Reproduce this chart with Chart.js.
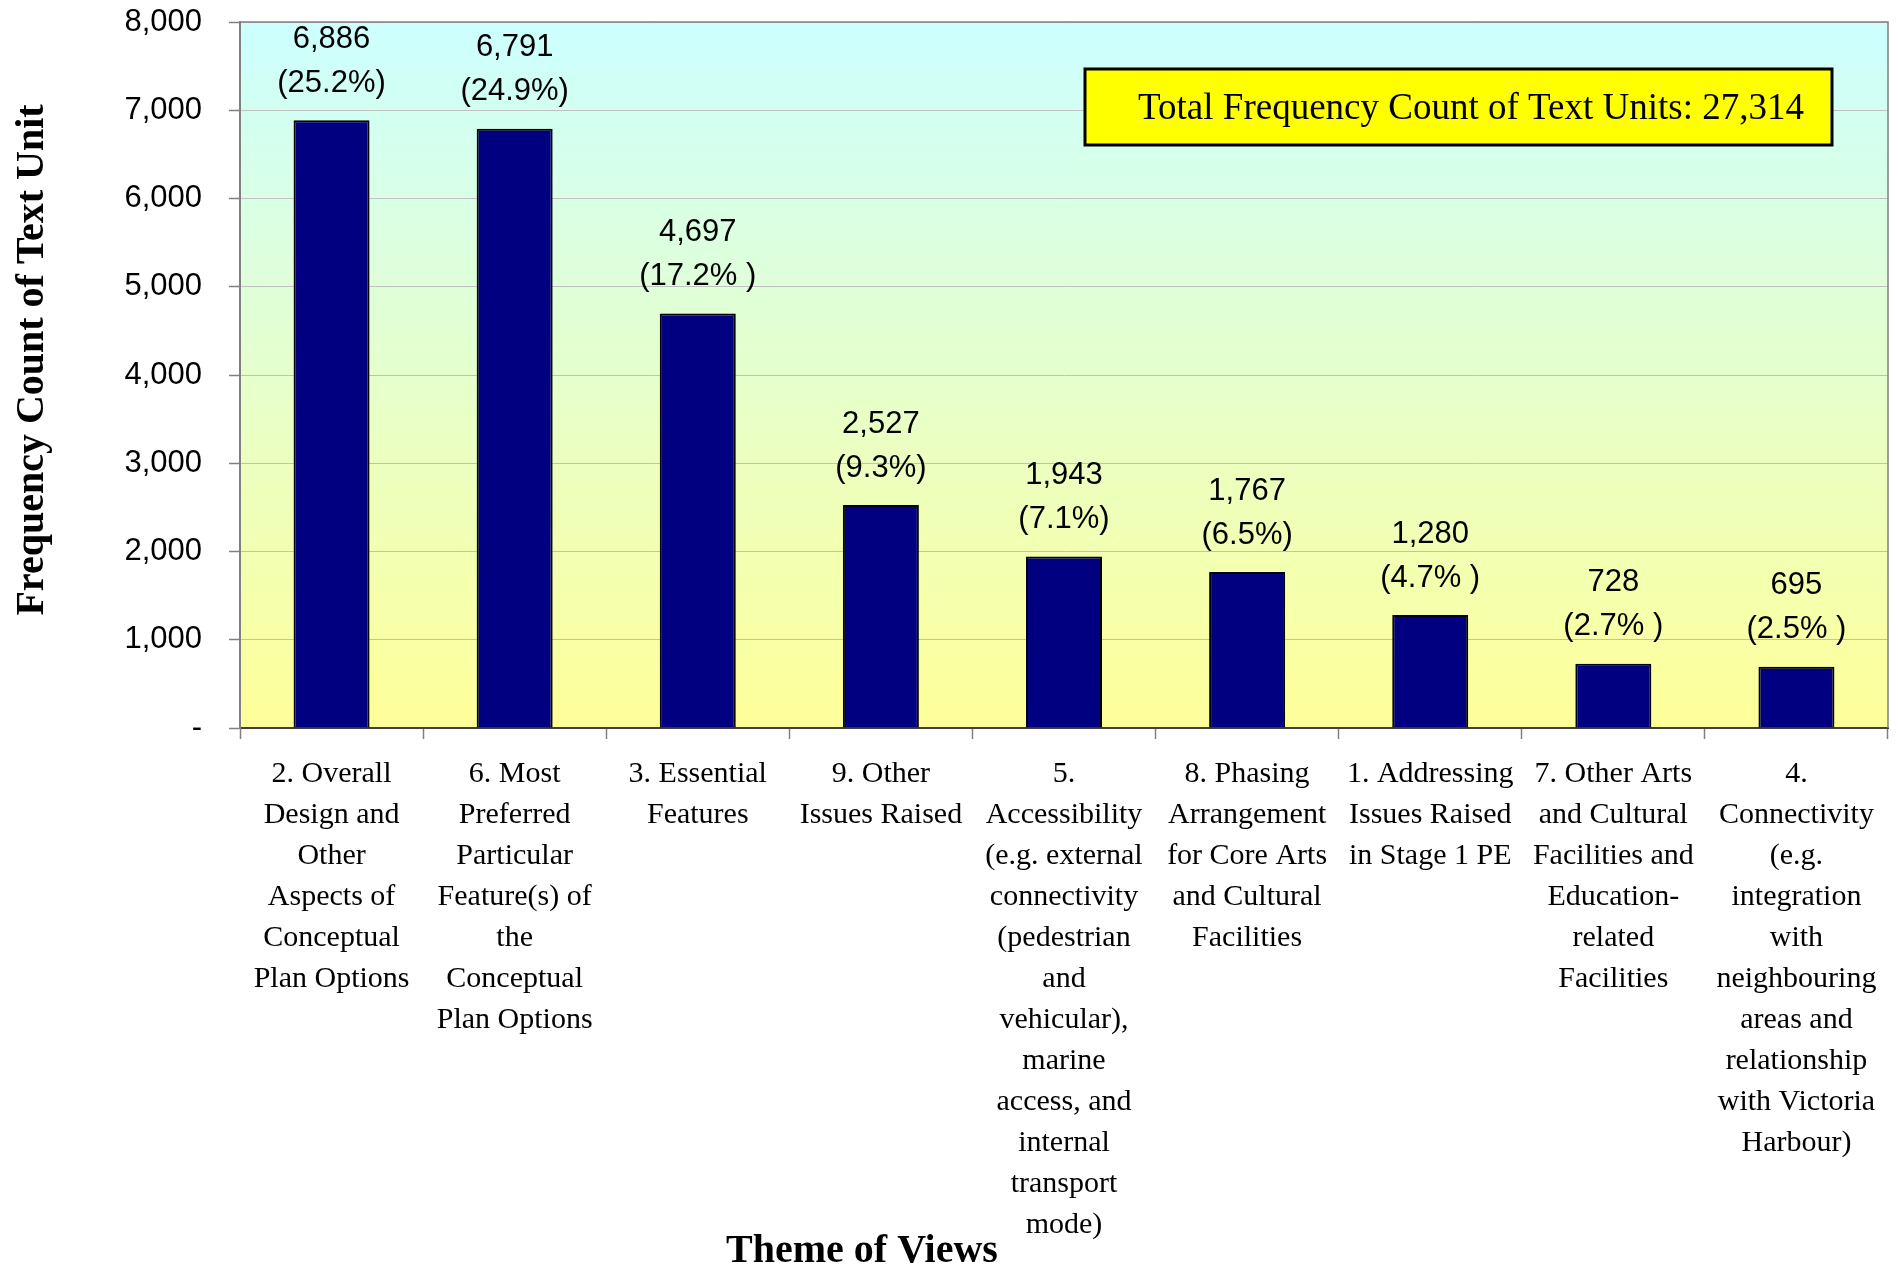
<!DOCTYPE html>
<html>
<head>
<meta charset="utf-8">
<script src="https://cdn.jsdelivr.net/npm/chart.js@4/dist/chart.umd.min.js"></script>
<style>
  body { margin: 0; background: #ffffff; }
  canvas { display: block; }
</style>
</head>
<body>
<canvas id="themes" width="1898" height="1273"></canvas>
<script>
/* chart values */
var categories = [
  ["2. Overall", "Design and", "Other", "Aspects of", "Conceptual", "Plan Options"],
  ["6. Most", "Preferred", "Particular", "Feature(s) of", "the", "Conceptual", "Plan Options"],
  ["3. Essential", "Features"],
  ["9. Other", "Issues Raised"],
  ["5.", "Accessibility", "(e.g. external", "connectivity", "(pedestrian", "and", "vehicular),", "marine", "access, and", "internal", "transport", "mode)"],
  ["8. Phasing", "Arrangement", "for Core Arts", "and Cultural", "Facilities"],
  ["1. Addressing", "Issues Raised", "in Stage 1 PE"],
  ["7. Other Arts", "and Cultural", "Facilities and", "Education-", "related", "Facilities"],
  ["4.", "Connectivity", "(e.g.", "integration", "with", "neighbouring", "areas and", "relationship", "with Victoria", "Harbour)"]
];
var counts = [6886, 6791, 4697, 2527, 1943, 1767, 1280, 728, 695];
var shares = ["(25.2%)", "(24.9%)", "(17.2% )", "(9.3%)", "(7.1%)", "(6.5%)", "(4.7% )", "(2.7% )", "(2.5% )"];
var yMin = 0, yMax = 8000, yStep = 1000;
var totalNote = "Total Frequency Count of Text Units: 27,314";
var yTitle = "Frequency Count of Text Unit";
var xTitle = "Theme of Views";

/* background gradient + frame */
var plotBack = {
  id: 'plotBack',
  beforeDraw: function(chart) {
    var c = chart.ctx, a = chart.chartArea;
    var g = c.createLinearGradient(0, a.top, 0, a.bottom);
    g.addColorStop(0, '#ccffff');
    g.addColorStop(1, '#ffff99');
    c.save();
    c.fillStyle = g;
    c.fillRect(a.left, a.top, a.right - a.left, a.bottom - a.top);
    c.restore();
  },
  afterDraw: function(chart) {
    var c = chart.ctx, a = chart.chartArea;
    c.save();
    c.strokeStyle = '#808080';
    c.lineWidth = 1.5;
    c.beginPath();
    c.moveTo(a.left, a.top);
    c.lineTo(a.right, a.top);
    c.lineTo(a.right, a.bottom);
    c.stroke();
    c.restore();
  }
};

/* value + share above each bar, titles, note box */
var extras = {
  id: 'extras',
  afterDatasetsDraw: function(chart) {
    var c = chart.ctx;
    var meta = chart.getDatasetMeta(0);
    c.save();
    c.fillStyle = '#000000';
    c.font = '31px "Liberation Sans", Arial, sans-serif';
    c.textAlign = 'center';
    c.textBaseline = 'middle';
    meta.data.forEach(function(bar, i) {
      c.fillText(counts[i].toLocaleString('en-US'), bar.x, bar.y - 81);
      c.fillText(shares[i], bar.x, bar.y - 37);
    });
    c.restore();
  },
  afterDraw: function(chart) {
    var c = chart.ctx;
    c.save();
    // note box
    c.fillStyle = '#ffff00';
    c.fillRect(1085, 69, 747, 76);
    c.strokeStyle = '#000000';
    c.lineWidth = 3;
    c.strokeRect(1085, 69, 747, 76);
    c.fillStyle = '#000000';
    c.font = '37px "Liberation Serif", "Times New Roman", serif';
    c.textAlign = 'center';
    c.textBaseline = 'middle';
    c.fillText(totalNote, 1471, 109);
    // axis titles
    c.font = 'bold 40px "Liberation Serif", "Times New Roman", serif';
    c.fillText(xTitle, 862, 1252);
    c.translate(33, 360);
    c.rotate(-Math.PI / 2);
    c.fillText(yTitle, 0, 0);
    c.restore();
  }
};

new Chart(document.getElementById('themes'), {
  type: 'bar',
  data: {
    labels: categories,
    datasets: [{
      label: 'Frequency',
      data: counts,
      backgroundColor: '#000080',
      borderColor: '#000000',
      borderWidth: 2,
      barPercentage: 0.415,
      categoryPercentage: 1
    }]
  },
  options: {
    responsive: false,
    animation: false,
    devicePixelRatio: 1,
    layout: { padding: { top: 22, right: 10, left: 0, bottom: 0 } },
    plugins: {
      legend: { display: false },
      tooltip: { enabled: false },
      title: { display: false }
    },
    scales: {
      x: {
        offset: true,
        grid: {
          offset: true,
          drawOnChartArea: false,
          tickLength: 11,
          tickColor: '#808080',
          tickWidth: 1.5
        },
        border: { color: '#404040', width: 2 },
        ticks: {
          color: '#000000',
          autoSkip: false,
          maxRotation: 0,
          minRotation: 0,
          padding: 15,
          font: { family: '"Liberation Serif", "Times New Roman", serif', size: 30, lineHeight: '41px' }
        },
        afterFit: function(s) { s.height = 545; s.paddingTop = 0; s.paddingBottom = 0; }
      },
      y: {
        min: yMin,
        max: yMax,
        grid: {
          color: '#c0c0c0',
          lineWidth: 1,
          tickLength: 11,
          tickColor: '#808080',
          tickWidth: 1.5
        },
        border: { color: '#808080', width: 2 },
        ticks: {
          stepSize: yStep,
          color: '#000000',
          padding: 27,
          font: { family: '"Liberation Sans", Arial, sans-serif', size: 31 },
          callback: function(v) { return v === 0 ? '-' : v.toLocaleString('en-US'); }
        },
        afterFit: function(s) { s.width = 240; s.paddingTop = 0; s.paddingBottom = 0; }
      }
    }
  },
  plugins: [plotBack, extras]
});
</script>
</body>
</html>
